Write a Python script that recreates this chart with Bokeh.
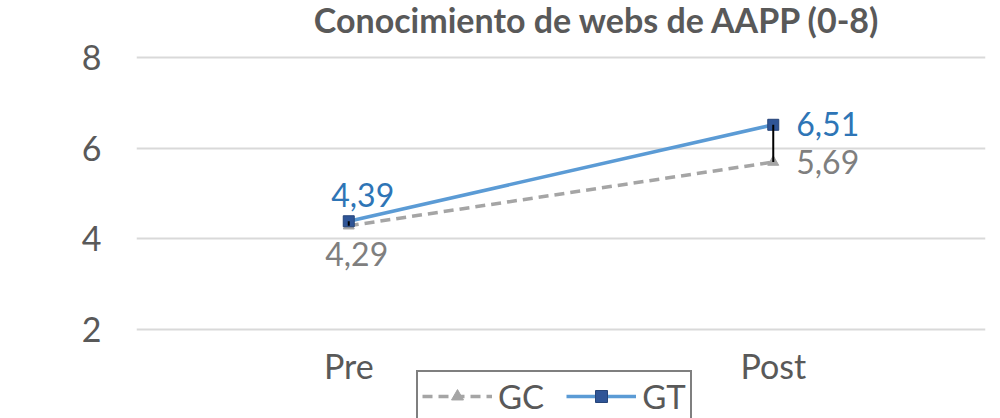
from bokeh.plotting import figure
from bokeh.models import (FactorRange, Range1d, FixedTicker, ColumnDataSource,
                          Legend, LegendItem, Label)
from bokeh.core.properties import value
from bokeh.embed import file_html
from bokeh.resources import INLINE

categories = ["Pre", "Post"]
gc_values = [4.29, 5.69]
gt_values = [4.39, 6.51]
y_ticks = [2, 4, 6, 8]
title_text = "Conocimiento de webs de AAPP (0-8)"
series_names = ["GC", "GT"]

FONT = "Lato"
fmt = lambda v: f"{v:.2f}".replace(".", ",")

# frame covers the full canvas height so title and legend sit inside it
p = figure(width=1000, height=418, x_range=FactorRange(*categories, range_padding=0),
           y_range=Range1d(0.0549, 9.2418), output_backend="svg", toolbar_location=None,
           min_border_left=136, min_border_right=15, min_border_top=0,
           min_border_bottom=0)
p.outline_line_color = None
p.background_fill_color = "white"
p.border_fill_color = "white"

p.add_layout(Label(text=title_text, x=461, y=399, x_units="screen", y_units="screen",
                   text_align="center", text_baseline="alphabetic", text_font=FONT,
                   text_font_size="34px", text_font_style="bold",
                   text_color="#595959"))

p.yaxis.ticker = FixedTicker(ticks=y_ticks)
p.yaxis.axis_line_color = None
p.yaxis.major_tick_line_color = None
p.yaxis.minor_tick_line_color = None
p.yaxis.major_label_text_font = FONT
p.yaxis.major_label_text_font_size = "34px"
p.yaxis.major_label_text_color = "#595959"
p.yaxis.major_label_standoff = 29

p.xaxis.visible = False

p.xgrid.grid_line_color = None
p.ygrid.grid_line_color = "#D9D9D9"
p.ygrid.grid_line_width = 2
p.ygrid.ticker = FixedTicker(ticks=y_ticks)

src = ColumnDataSource(dict(x=categories, gc=gc_values, gt=gt_values,
                            base=[min(y_ticks)] * len(categories)))

# category labels under the lowest gridline
p.text("x", "base", text="x", source=src, text_font=value(FONT),
       text_font_size="34px", text_color="#595959", text_align="center",
       text_baseline="middle", y_offset=36)

gc_line = p.line("x", "gc", source=src, line_color="#A5A5A5", line_width=3.5,
                 line_dash="10 6")
gt_line = p.line("x", "gt", source=src, line_color="#5B9BD5", line_width=3.5)
gc_mark = p.scatter("x", "gc", source=src, marker="triangle", size=11,
                    fill_color="#A5A5A5", line_color="#A5A5A5")
gt_mark = p.scatter("x", "gt", source=src, marker="square", size=11,
                    fill_color="#2F5597", line_color="#264478")
p.segment(x0="x", y0="gc", x1="x", y1="gt", source=src, line_color="black",
          line_width=2)

# data labels
pre_src = ColumnDataSource(dict(x=categories[:1], gc=gc_values[:1], gt=gt_values[:1],
                                gc_lab=[fmt(v) for v in gc_values[:1]],
                                gt_lab=[fmt(v) for v in gt_values[:1]]))
post_src = ColumnDataSource(dict(x=categories[1:], gc=gc_values[1:], gt=gt_values[1:],
                                 gc_lab=[fmt(v) for v in gc_values[1:]],
                                 gt_lab=[fmt(v) for v in gt_values[1:]]))
LBL = "32px"
p.text("x", "gt", text="gt_lab", source=pre_src, text_font=value(FONT),
       text_font_size=LBL, text_color="#2E75B6", text_align="center",
       text_baseline="bottom", x_offset=14, y_offset=-14)
p.text("x", "gc", text="gc_lab", source=pre_src, text_font=value(FONT),
       text_font_size=LBL, text_color="#7F7F7F", text_align="center",
       text_baseline="top", x_offset=8, y_offset=16)
p.text("x", "gt", text="gt_lab", source=post_src, text_font=value(FONT),
       text_font_size=LBL, text_color="#2E75B6", text_align="left",
       text_baseline="middle", x_offset=23, y_offset=-1)
p.text("x", "gc", text="gc_lab", source=post_src, text_font=value(FONT),
       text_font_size=LBL, text_color="#7F7F7F", text_align="left",
       text_baseline="middle", x_offset=23, y_offset=0)

legend = Legend(items=[LegendItem(label=series_names[0], renderers=[gc_line, gc_mark]),
                       LegendItem(label=series_names[1], renderers=[gt_line, gt_mark])],
                orientation="horizontal", location=(280, -4),
                label_text_font=FONT, label_text_font_size="33px",
                label_text_color="#595959", glyph_width=70, glyph_height=30,
                label_standoff=6, spacing=22, padding=4, margin=0,
                border_line_color="black", border_line_width=2,
                background_fill_alpha=1)
p.add_layout(legend, "center")

open("out.html", "w").write(file_html(p, INLINE))
